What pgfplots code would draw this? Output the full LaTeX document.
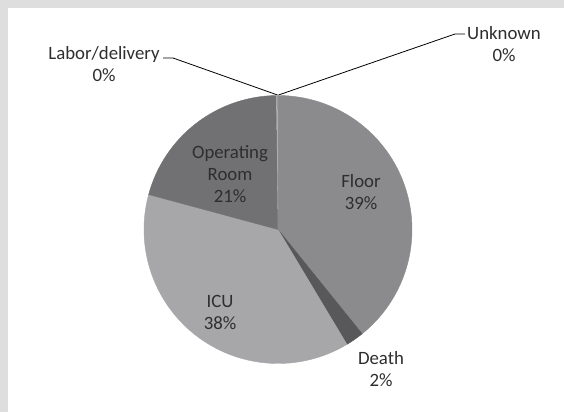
\documentclass[border=0pt]{standalone}
\usepackage{fontspec}
\setmainfont{Carlito}
\usepackage{pgfplots}
\usepackage{pgfplotstable}
\pgfplotsset{compat=1.18}
\definecolor{bggray}{HTML}{DEDEDE}
\definecolor{floorc}{HTML}{8B8B8E}
\definecolor{deathc}{HTML}{58585B}
\definecolor{icuc}{HTML}{A7A7AA}
\definecolor{orc}{HTML}{717174}
\definecolor{laborc}{HTML}{B4B4B7}
\definecolor{unkc}{HTML}{9A9A9D}
\definecolor{txt}{HTML}{2E2E2E}
\pgfplotstableread{
label value
Floor 39.2
Death 2.2
ICU 37.8
OR 20.6
Labor 0.1
Unknown 0.1
}\piedata
\begin{document}
\begin{tikzpicture}
\pgfplotstablegetelem{0}{value}\of\piedata \let\vA\pgfplotsretval
\pgfplotstablegetelem{1}{value}\of\piedata \let\vB\pgfplotsretval
\pgfplotstablegetelem{2}{value}\of\piedata \let\vC\pgfplotsretval
\pgfplotstablegetelem{3}{value}\of\piedata \let\vD\pgfplotsretval
\pgfplotstablegetelem{4}{value}\of\piedata \let\vE\pgfplotsretval
\pgfplotstablegetelem{5}{value}\of\piedata \let\vF\pgfplotsretval
\pgfmathsetmacro\aA{90}
\pgfmathsetmacro\aB{\aA-3.6*\vA}
\pgfmathsetmacro\aC{\aB-3.6*\vB}
\pgfmathsetmacro\aD{\aC-3.6*\vC}
\pgfmathsetmacro\aE{\aD-3.6*\vD}
\pgfmathsetmacro\aF{\aE-3.6*\vE}
\pgfmathsetmacro\aG{\aF-3.6*\vF}
\def\cx{278}\def\cy{182.5}\def\rr{134}
\begin{axis}[width=564pt, height=412pt, scale only axis,
  xmin=0, xmax=564, ymin=0, ymax=412, hide axis, clip=false,
  every axis plot/.append style={line width=0.4pt}]
\addplot[fill=bggray, draw=none] coordinates {(0,0) (564,0) (564,412) (0,412)} -- cycle;
\addplot[fill=white, draw=none] coordinates {(8,0) (564,0) (564,404) (8,404)} -- cycle;
\addplot[fill=floorc, draw=floorc, domain=\aB:\aA, samples=90, variable=\t] ({\cx+\rr*cos(\t)},{\cy+\rr*sin(\t)}) -- (axis cs:\cx,\cy) -- cycle;
\addplot[fill=deathc, draw=deathc, domain=\aC:\aB, samples=10, variable=\t] ({\cx+\rr*cos(\t)},{\cy+\rr*sin(\t)}) -- (axis cs:\cx,\cy) -- cycle;
\addplot[fill=icuc, draw=icuc, domain=\aD:\aC, samples=90, variable=\t] ({\cx+\rr*cos(\t)},{\cy+\rr*sin(\t)}) -- (axis cs:\cx,\cy) -- cycle;
\addplot[fill=orc, draw=orc, domain=\aE:\aD, samples=60, variable=\t] ({\cx+\rr*cos(\t)},{\cy+\rr*sin(\t)}) -- (axis cs:\cx,\cy) -- cycle;
\addplot[fill=laborc, draw=none, domain=\aF:\aE, samples=3, variable=\t] ({\cx+\rr*cos(\t)},{\cy+\rr*sin(\t)}) -- (axis cs:\cx,\cy) -- cycle;
\addplot[fill=unkc, draw=none, domain=\aG:\aF, samples=3, variable=\t] ({\cx+\rr*cos(\t)},{\cy+\rr*sin(\t)}) -- (axis cs:\cx,\cy) -- cycle;
% leader lines
\addplot[black, line width=0.8pt] coordinates {(163,354) (173,354) (277.5,317)};
\addplot[black, line width=0.8pt] coordinates {(278.5,317) (455,378) (465,378)};
% labels
\begin{scope}[every node/.style={font=\fontsize{18.8}{22}\selectfont, text=txt, align=center, inner sep=0pt}]
\node at (axis cs:104,348) {Labor/delivery\\0\%};
\node at (axis cs:504,368) {Unknown\\0\%};
\node at (axis cs:230,238) {Operating\\Room\\21\%};
\node at (axis cs:361,220) {Floor\\39\%};
\node at (axis cs:220,100) {ICU\\38\%};
\node at (axis cs:381,43) {Death\\2\%};
\end{scope}
\end{axis}
\end{tikzpicture}
\end{document}
